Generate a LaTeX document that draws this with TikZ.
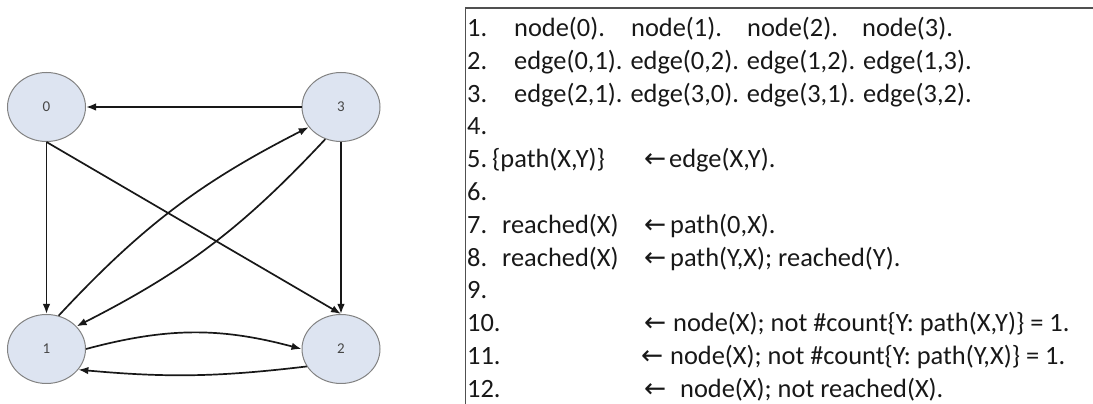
\documentclass[tikz,border=0pt]{standalone}
\usepackage{fontspec}
\setmainfont{Carlito}
\newfontfamily\arrowfont{DejaVu Sans}
\usetikzlibrary{shapes.geometric,arrows.meta}
\definecolor{nodefill}{RGB}{221,228,241}
\definecolor{nodeedge}{RGB}{130,130,130}
\definecolor{ink}{RGB}{24,24,24}
\definecolor{framegray}{RGB}{80,80,80}
\begin{document}
\begin{tikzpicture}[x=1pt,y=1pt,
  vertex/.style={ellipse, draw=nodeedge, line width=1pt, fill=nodefill,
    minimum width=78pt, minimum height=69pt, inner sep=0pt,
    font=\fontsize{15}{17}\selectfont, text=ink!80},
  link/.style={draw=ink, line width=1.7pt, -{Latex[length=10pt,width=7.5pt]}},
  code/.style={anchor=base west, inner sep=0pt,
    font=\fontsize{26.4}{30}\selectfont, text=ink},
  imp/.style={code, font=\arrowfont\fontsize{26.4}{30}\selectfont}]
\useasboundingbox (0,0) rectangle (1093,404);

% graph
\node[vertex] (n0) at (46.5,297) {0};
\node[vertex] (n3) at (341,297) {3};
\node[vertex] (n1) at (46.5,55) {1};
\node[vertex] (n2) at (341,55) {2};

\draw[link] (n3) -- (n0);
\draw[link] (n0) -- (n1);
\draw[link] (n3) -- (n2);
\draw[link] (n0.south) -- (n2.north);
\draw[link] (n1.70) to[bend left=10] (n3.212);
\draw[link] (n3.244) to[bend left=10] (n1.37);
\draw[link] (n1.east) to[bend left=15] (n2.west);
\draw[link] (n2.207) to[bend left=6] (n1.327);

% program listing frame
\draw[framegray, line width=2.2pt] (465.5,396) -- (1093,396);
\draw[framegray, line width=1.6pt] (465.5,397) -- (465.5,0);

% line numbers
\foreach \i in {1,...,12}
  \node[code] (num\i) at (467,{404-36.5-(\i-1)*32.8}) {\i.};

% line 1
\node[code] (l1a) at (514,367.5) {node(0).};
\node[code] (l1b) at (631,367.5) {node(1).};
\node[code] (l1c) at (747,367.5) {node(2).};
\node[code] (l1d) at (862,367.5) {node(3).};
% lines 2-3
\node[code] (l2) at (514,334.7) {edge(0,1). edge(0,2). edge(1,2). edge(1,3).};
\node[code] (l3) at (514,301.9) {edge(2,1). edge(3,0). edge(3,1). edge(3,2).};
% line 5
\node[code] (l5h) at (492,236.3) {\{path(X,Y)\}};
\node[imp]  (l5i) at (644,236.3) {←};
\node[code] (l5b) at (669,236.3) {edge(X,Y).};
% line 7
\node[code] (l7h) at (502,170.7) {reached(X)};
\node[imp]  (l7i) at (644,170.7) {←};
\node[code] (l7b) at (670,170.7) {path(0,X).};
% line 8
\node[code] (l8h) at (502,137.9) {reached(X)};
\node[imp]  (l8i) at (644,137.9) {←};
\node[code] (l8b) at (670,137.9) {path(Y,X); reached(Y).};
% line 10
\node[imp]  (l10i) at (644,72.3) {←};
\node[code] (l10b) at (673,72.3) {node(X); not \#count\{Y: path(X,Y)\} = 1.};
% line 11
\node[imp]  (l11i) at (641,39.5) {←};
\node[code] (l11b) at (670,39.5) {node(X); not \#count\{Y: path(Y,X)\} = 1.};
% line 12
\node[imp]  (l12i) at (644,6.7) {←};
\node[code] (l12b) at (680,6.7) {node(X); not reached(X).};
\end{tikzpicture}
\end{document}
